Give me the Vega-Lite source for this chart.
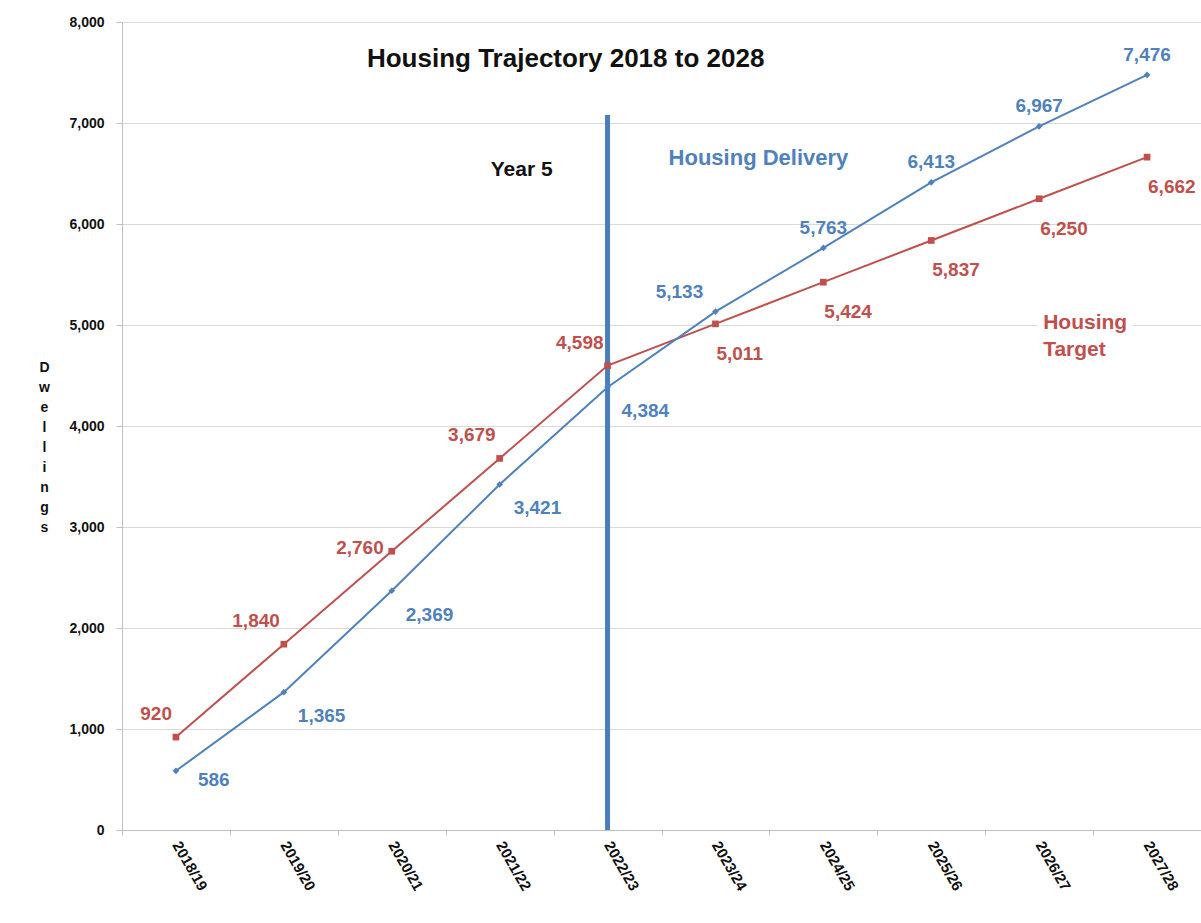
{
  "$schema": "https://vega.github.io/schema/vega-lite/v6.json",
  "width": 1079,
  "height": 808,
  "autosize": {"type": "none"},
  "padding": {"left": 122, "top": 22, "right": 0, "bottom": 93},
  "background": "white",
  "config": {
    "view": {"stroke": null},
    "font": "Liberation Sans",
    "text": {"font": "Liberation Sans", "fontWeight": "bold"}
  },
  "datasets": {
    "rows": [
      {"period": "2018/19", "series": "Housing Target", "value": 920},
      {"period": "2019/20", "series": "Housing Target", "value": 1840},
      {"period": "2020/21", "series": "Housing Target", "value": 2760},
      {"period": "2021/22", "series": "Housing Target", "value": 3679},
      {"period": "2022/23", "series": "Housing Target", "value": 4598},
      {"period": "2023/24", "series": "Housing Target", "value": 5011},
      {"period": "2024/25", "series": "Housing Target", "value": 5424},
      {"period": "2025/26", "series": "Housing Target", "value": 5837},
      {"period": "2026/27", "series": "Housing Target", "value": 6250},
      {"period": "2027/28", "series": "Housing Target", "value": 6662},
      {"period": "2018/19", "series": "Housing Delivery", "value": 586},
      {"period": "2019/20", "series": "Housing Delivery", "value": 1365},
      {"period": "2020/21", "series": "Housing Delivery", "value": 2369},
      {"period": "2021/22", "series": "Housing Delivery", "value": 3421},
      {"period": "2022/23", "series": "Housing Delivery", "value": 4384},
      {"period": "2023/24", "series": "Housing Delivery", "value": 5133},
      {"period": "2024/25", "series": "Housing Delivery", "value": 5763},
      {"period": "2025/26", "series": "Housing Delivery", "value": 6413},
      {"period": "2026/27", "series": "Housing Delivery", "value": 6967},
      {"period": "2027/28", "series": "Housing Delivery", "value": 7476}
    ]
  },
  "encoding": {
    "x": {
      "field": "period",
      "type": "ordinal",
      "scale": {
        "type": "band",
        "paddingInner": 0,
        "paddingOuter": 0,
        "domain": ["2018/19", "2019/20", "2020/21", "2021/22", "2022/23", "2023/24", "2024/25", "2025/26", "2026/27", "2027/28"]
      },
      "axis": {
        "title": null,
        "grid": false,
        "tickBand": "extent",
        "domainColor": "#bfbfbf",
        "tickColor": "#bfbfbf",
        "tickSize": 5,
        "labelAngle": 60,
        "labelAlign": "left",
        "labelBaseline": "middle",
        "labelPadding": 7,
        "labelFont": "Liberation Sans",
        "labelFontWeight": "bold",
        "labelFontSize": 15,
        "labelColor": "#111111"
      }
    },
    "y": {
      "field": "value",
      "type": "quantitative",
      "scale": {"domain": [0, 8000], "nice": false},
      "axis": {
        "values": [0, 1000, 2000, 3000, 4000, 5000, 6000, 7000, 8000],
        "format": ",.0f",
        "grid": true,
        "gridColor": "#d9d9d9",
        "domainColor": "#bfbfbf",
        "tickColor": "#bfbfbf",
        "tickSize": 6,
        "labelPadding": 12,
        "labelFont": "Liberation Sans",
        "labelFontWeight": "bold",
        "labelFontSize": 14,
        "labelColor": "#111111",
        "title": ["D", "w", "e", "l", "l", "i", "n", "g", "s"],
        "titleAngle": 0,
        "titleFont": "Liberation Sans",
        "titleFontWeight": "bold",
        "titleFontSize": 14,
        "titleLineHeight": 20,
        "titleAlign": "center",
        "titleBaseline": "middle",
        "titleX": -78,
        "titleY": 345,
        "titleColor": "#111111"
      }
    },
    "color": {
      "field": "series",
      "type": "nominal",
      "scale": {"domain": ["Housing Delivery", "Housing Target"], "range": ["#4F81BD", "#C0504D"]},
      "legend": null
    }
  },
  "layer": [
    {
      "data": {"values": [{"period": "2022/23", "top": 7080, "bottom": 0}]},
      "mark": {"type": "rule", "strokeWidth": 5, "color": "#4A7EBB"},
      "encoding": {
        "y": {"field": "top", "type": "quantitative"},
        "y2": {"field": "bottom"},
        "color": {"value": "#4A7EBB"}
      }
    },
    {
      "data": {"name": "rows"},
      "mark": {"type": "line", "strokeWidth": 2},
      "encoding": {"detail": {"field": "series"}}
    },
    {
      "data": {"name": "rows"},
      "mark": {"type": "point", "filled": true, "opacity": 1, "size": 45},
      "encoding": {
        "shape": {
          "field": "series",
          "type": "nominal",
          "scale": {"domain": ["Housing Delivery", "Housing Target"], "range": ["diamond", "square"]},
          "legend": null
        }
      }
    },
    {
      "data": {"name": "rows"},
      "transform": [{"filter": "datum.series == 'Housing Target' && indexof(['2018/19','2019/20','2021/22','2022/23'], datum.period) >= 0"}],
      "mark": {"type": "text", "fontSize": 19, "align": "right", "baseline": "middle", "dx": -4, "dy": -23},
      "encoding": {"text": {"field": "value", "type": "quantitative", "format": ","}}
    },
    {
      "data": {"name": "rows"},
      "transform": [{"filter": "datum.series == 'Housing Target' && datum.period == '2020/21'"}],
      "mark": {"type": "text", "fontSize": 19, "align": "right", "baseline": "middle", "dx": -8, "dy": -3},
      "encoding": {"text": {"field": "value", "type": "quantitative", "format": ","}}
    },
    {
      "data": {"name": "rows"},
      "transform": [{"filter": "datum.series == 'Housing Target' && datum.period >= '2023/24'"}],
      "mark": {"type": "text", "fontSize": 19, "align": "left", "baseline": "middle", "dx": 1, "dy": 30},
      "encoding": {"text": {"field": "value", "type": "quantitative", "format": ","}}
    },
    {
      "data": {"name": "rows"},
      "transform": [{"filter": "datum.series == 'Housing Delivery' && indexof(['2019/20','2020/21','2021/22','2022/23'], datum.period) >= 0"}],
      "mark": {"type": "text", "fontSize": 19, "align": "left", "baseline": "middle", "dx": 14, "dy": 24},
      "encoding": {"text": {"field": "value", "type": "quantitative", "format": ","}}
    },
    {
      "data": {"name": "rows"},
      "transform": [{"filter": "datum.series == 'Housing Delivery' && datum.period == '2018/19'"}],
      "mark": {"type": "text", "fontSize": 19, "align": "left", "baseline": "middle", "dx": 22, "dy": 9},
      "encoding": {"text": {"field": "value", "type": "quantitative", "format": ","}}
    },
    {
      "data": {"name": "rows"},
      "transform": [{"filter": "datum.series == 'Housing Delivery' && datum.period == '2023/24'"}],
      "mark": {"type": "text", "fontSize": 19, "align": "center", "baseline": "middle", "dx": -36, "dy": -20},
      "encoding": {"text": {"field": "value", "type": "quantitative", "format": ","}}
    },
    {
      "data": {"name": "rows"},
      "transform": [{"filter": "datum.series == 'Housing Delivery' && datum.period >= '2024/25'"}],
      "mark": {"type": "text", "fontSize": 19, "align": "center", "baseline": "middle", "dx": 0, "dy": -20},
      "encoding": {"text": {"field": "value", "type": "quantitative", "format": ","}}
    },
    {
      "data": {"values": [{"period": "2021/22", "value": 7630, "label": "Housing Trajectory 2018 to 2028"}]},
      "mark": {"type": "text", "fontSize": 26, "align": "center", "baseline": "middle", "dx": 66},
      "encoding": {"text": {"field": "label"}, "color": {"value": "#111111"}}
    },
    {
      "data": {"values": [{"period": "2021/22", "value": 6535, "label": "Year 5"}]},
      "mark": {"type": "text", "fontSize": 21, "align": "center", "baseline": "middle", "dx": 22},
      "encoding": {"text": {"field": "label"}, "color": {"value": "#111111"}}
    },
    {
      "data": {"values": [{"period": "2023/24", "value": 6650, "label": "Housing Delivery"}]},
      "mark": {"type": "text", "fontSize": 22, "align": "center", "baseline": "middle", "dx": 43},
      "encoding": {"text": {"field": "label"}, "color": {"value": "#4F81BD"}}
    },
    {
      "data": {"values": [{"period": "2026/27", "value": 5015, "label": "Housing\nTarget"}]},
      "mark": {"type": "text", "fontSize": 21, "lineHeight": 27, "lineBreak": "\n", "align": "left", "baseline": "middle", "dx": 4, "stroke": "white", "strokeWidth": 14, "strokeJoin": "round"},
      "encoding": {"text": {"field": "label"}, "color": {"value": "white"}}
    },
    {
      "data": {"values": [{"period": "2026/27", "value": 5015, "label": "Housing\nTarget"}]},
      "mark": {"type": "text", "fontSize": 21, "lineHeight": 27, "lineBreak": "\n", "align": "left", "baseline": "middle", "dx": 4},
      "encoding": {"text": {"field": "label"}, "color": {"value": "#C0504D"}}
    }
  ]
}
